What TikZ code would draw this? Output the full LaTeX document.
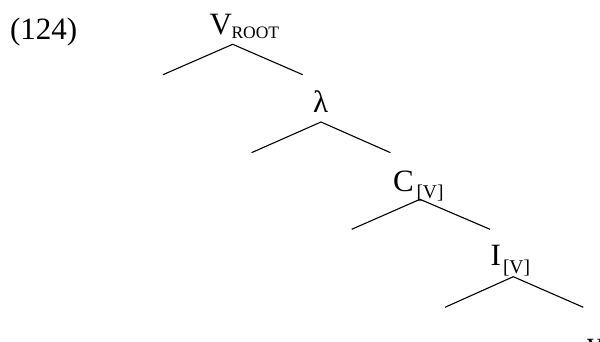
\documentclass[tikz,border=0pt]{standalone}
\usepackage{fontspec}
\setmainfont{Liberation Serif}
\begin{document}
\begin{tikzpicture}[x=1pt,y=-1pt,
  lbl/.style={anchor=base west,inner sep=0pt,outer sep=0pt,font=\fontsize{31}{37}\selectfont},
  sub/.style={anchor=base west,inner sep=0pt,outer sep=0pt,font=\fontsize{19.5}{23}\selectfont},
  tiny/.style={anchor=base west,inner sep=0pt,outer sep=0pt,font=\fontsize{17.5}{20}\selectfont},
  branch/.style={line width=1.1pt}]
\useasboundingbox (0,0) rectangle (600,342);
\node[lbl] (ex) at (10,40) {(124)};
\node[lbl] (V) at (209.5,35) {V};
\node[tiny] (root) at (231.5,38.3) {ROOT};
\node[lbl] (lam) at (313,113) {λ};
\node[lbl] (C) at (393,191.5) {C};
\node[sub] (Csub) at (416.5,198.3) {[V]};
\node[lbl] (I) at (490.5,265.5) {I};
\node[sub] (Isub) at (503,273.3) {[V]};
\node[lbl] (v) at (587,353) {v};
\coordinate (a1) at (232.7,44.3);
\coordinate (l1) at (163,74.7);
\coordinate (r1) at (302.7,74.7);
\coordinate (a2) at (321,122);
\coordinate (l2) at (251.5,152.7);
\coordinate (r2) at (390.5,152.7);
\coordinate (a3) at (420,199.3);
\coordinate (l3) at (351.7,229.3);
\coordinate (r3) at (490,229.3);
\coordinate (a4) at (513.3,276.7);
\coordinate (l4) at (445,307.3);
\coordinate (r4) at (583.3,307.3);
\draw[branch] (l1) -- (a1) -- (r1);
\draw[branch] (l2) -- (a2) -- (r2);
\draw[branch] (l3) -- (a3) -- (r3);
\draw[branch] (l4) -- (a4) -- (r4);
\end{tikzpicture}
\end{document}
